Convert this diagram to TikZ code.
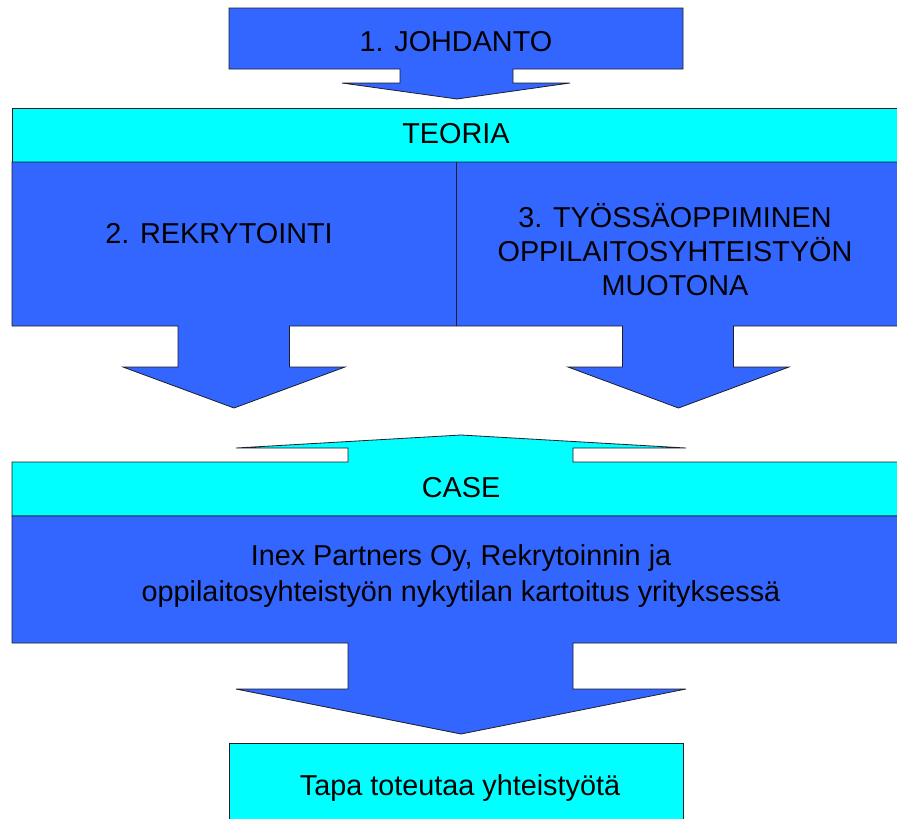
\documentclass[tikz,border=0pt]{standalone}
\usepackage{fontspec}
\setmainfont{Liberation Sans}
\definecolor{blockblue}{RGB}{51,102,255}
\definecolor{blockcyan}{RGB}{0,255,255}
\definecolor{edge}{RGB}{30,30,40}
\tikzset{
  blueshape/.style={fill=blockblue, draw=edge, line width=0.8pt, line join=miter},
  cyanshape/.style={fill=blockcyan, draw=edge, line width=0.8pt, line join=miter},
  label/.style={inner sep=0pt, align=center, font=\fontsize{28.8}{34}\selectfont},
}
\begin{document}
\begin{tikzpicture}[x=1pt, y=-1pt]
\clip (0,0) rectangle (897,819);
\fill[white] (0,0) rectangle (897,819);

% introduction box with its arrow
\draw[blueshape] (229,8) -- (683,8) -- (683,69) -- (513,69) -- (513,83) -- (570,83)
  -- (457,99) -- (342,83) -- (400,83) -- (400,69) -- (229,69) -- cycle;
\node[label] (johdanto) at (456,42) {1. JOHDANTO};

% theory header
\draw[cyanshape] (12,108) rectangle (905,162);
\node[label] (teoria) at (456,134) {TEORIA};

% theory body with two downward arrows
\draw[blueshape] (12,162) -- (905,162) -- (905,326) -- (733.5,326) -- (733.5,367)
  -- (789,367) -- (678.5,408) -- (568,367) -- (622.5,367) -- (622.5,326)
  -- (289.5,326) -- (289.5,367) -- (345,367) -- (234,408) -- (123,367)
  -- (178,367) -- (178,326) -- (12,326) -- cycle;
\draw[draw=edge, line width=0.8pt] (456,162) -- (456,326);
\node[label] (rekry) at (219,234) {2. REKRYTOINTI};
\node[label] (tyossa) at (675,250) {3. TYÖSSÄOPPIMINEN\\OPPILAITOSYHTEISTYÖN\\MUOTONA};

% case header with upward arrow
\draw[cyanshape] (12,462) -- (348,462) -- (348,448) -- (236,448) -- (461,435)
  -- (686,448) -- (573,448) -- (573,462) -- (905,462) -- (905,516) -- (12,516) -- cycle;
\node[label] (case) at (461,488) {CASE};

% case body with downward arrow
\draw[blueshape] (12,516) -- (905,516) -- (905,643) -- (573,643) -- (573,689)
  -- (686,689) -- (461,734) -- (236,689) -- (348,689) -- (348,643) -- (12,643) -- cycle;
\node[label, font=\fontsize{28.8}{36}\selectfont] (inex) at (461,576)
  {Inex Partners Oy, Rekrytoinnin ja\\oppilaitosyhteistyön nykytilan kartoitus yrityksessä};

% result box
\draw[cyanshape] (229,743) rectangle (683,830);
\node[label] (tapa) at (460,788) {Tapa toteutaa yhteistyötä};
\end{tikzpicture}
\end{document}
